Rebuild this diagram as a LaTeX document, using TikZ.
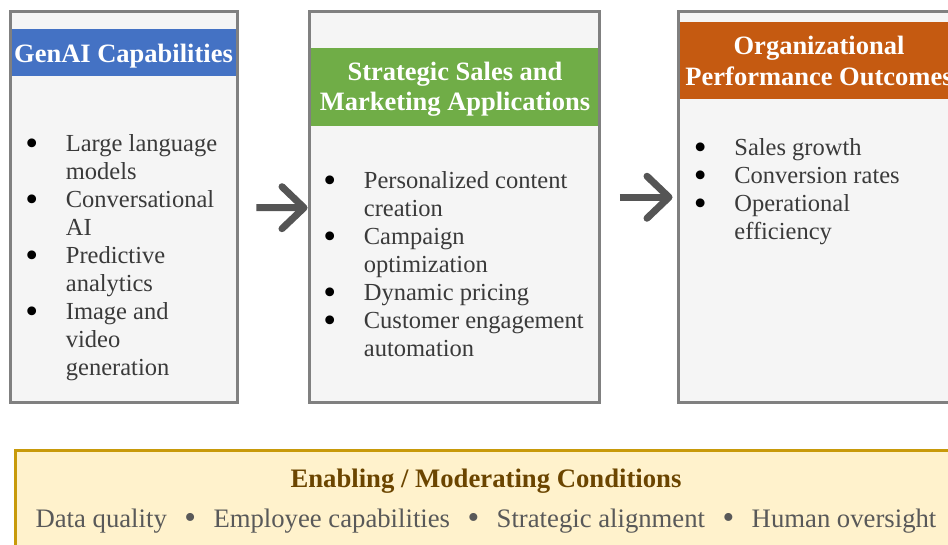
\documentclass[tikz,border=0pt]{standalone}
\usepackage{fontspec}
\setmainfont{Liberation Serif}
\usepackage{xcolor}
\usetikzlibrary{arrows.meta, positioning}

\definecolor{panelfill}{HTML}{F5F5F5}
\definecolor{panelline}{HTML}{808080}
\definecolor{capblue}{HTML}{4472C4}
\definecolor{appgreen}{HTML}{70AD47}
\definecolor{outorange}{HTML}{C55A11}
\definecolor{condfill}{HTML}{FFF2CC}
\definecolor{condline}{HTML}{C89A0A}
\definecolor{condtitle}{HTML}{6B4500}
\definecolor{condtext}{HTML}{595959}
\definecolor{bodytext}{HTML}{3A3A3A}
\definecolor{arrowgray}{HTML}{555555}

\newcommand\bodyfont{\fontsize{24.5}{28}\selectfont}
\newcommand\headfont{\fontsize{26.5}{30.8}\selectfont\bfseries}
\newcommand\condfont{\fontsize{26.7}{30}\selectfont}
% bullet and hanging indent for the panel lists
\newcommand\itm{\makebox[40.5pt][l]{\textcolor{black}{\raisebox{-4pt}{\scalebox{1.5}{\textbullet}}}}}
\newcommand\cnt{\hspace*{40.5pt}}
\newcommand\condsep{\hspace{17.5pt}\raisebox{-1.5pt}{\scalebox{1.25}{\textbullet}}\hspace{17.5pt}}

\begin{document}
\begin{tikzpicture}[x=1pt, y=-1pt,
    panel/.style={draw=panelline, line width=3pt, fill=panelfill, inner sep=0pt},
    head/.style={anchor=base, text=white, inner sep=0pt, align=center, font=\headfont},
    items/.style={anchor=base west, inner sep=0pt, align=left, text=bodytext, font=\bodyfont},
    flow/.style={draw=arrowgray, line width=7pt, -{Straight Barb[length=22pt, width=42pt, round]}}]
    \useasboundingbox (0,0) rectangle (948,544);
    \clip (0,0) rectangle (948,544);

    % the three panels
    \node [panel, minimum width=226.5pt, minimum height=390.7pt] (caps) at (124.05,206.65) {};
    \node [panel, minimum width=290.3pt, minimum height=390.5pt] (apps) at (454.15,206.75) {};
    \node [panel, minimum width=280pt, minimum height=390.5pt] (outs) at (818,206.75) {};

    % coloured title bands
    \fill [capblue] (12.3,29.3) rectangle (235.7,76);
    \fill [appgreen] (310.7,48.3) rectangle (597.7,126);
    \fill [outorange] (679.5,22.3) rectangle (956.5,99.3);

    % titles sit on the baseline of their last line
    \node [head] (capsTitle) at (123.5,62) {GenAI Capabilities};
    \node [head] (appsTitle) at (455,110.8) {Strategic Sales and\\Marketing Applications};
    \node [head] (outsTitle) at (819,85.1) {Organizational\\Performance Outcomes};

    % bullet lists
    \node [items] (capsList) at (25.2,375) {\itm Large language\\ \cnt models\\ \itm Conversational\\ \cnt AI\\
        \itm Predictive\\ \cnt analytics\\ \itm Image and\\ \cnt video\\ \cnt generation};
    \node [items] (appsList) at (323.2,356.5) {\itm Personalized content\\ \cnt creation\\ \itm Campaign\\ \cnt optimization\\
        \itm Dynamic pricing\\ \itm Customer engagement\\ \cnt automation};
    \node [items] (outsList) at (693.7,239) {\itm Sales growth\\ \itm Conversion rates\\ \itm Operational\\ \cnt efficiency};

    % arrows between panels
    \draw [flow, shorten <=17.5pt] ([yshift=-1pt]caps.east) -- ([yshift=-1pt]apps.west);
    \draw [flow, shorten <=19pt, shorten >=4pt] ([yshift=9.5pt]apps.east) -- ([yshift=9.5pt]outs.west);

    % conditions band along the bottom
    \draw [condline, line width=3pt, fill=condfill] (15,450) rectangle (957,560);
    \node [anchor=base, inner sep=0pt, text=condtitle, font=\condfont\bfseries] (condTitle) at (486,487)
        {Enabling / Moderating Conditions};
    \node [anchor=base, inner sep=0pt, text=condtext, font=\condfont] (condList) at (486,527)
        {Data quality\condsep Employee capabilities\condsep Strategic alignment\condsep Human oversight};
\end{tikzpicture}
\end{document}
